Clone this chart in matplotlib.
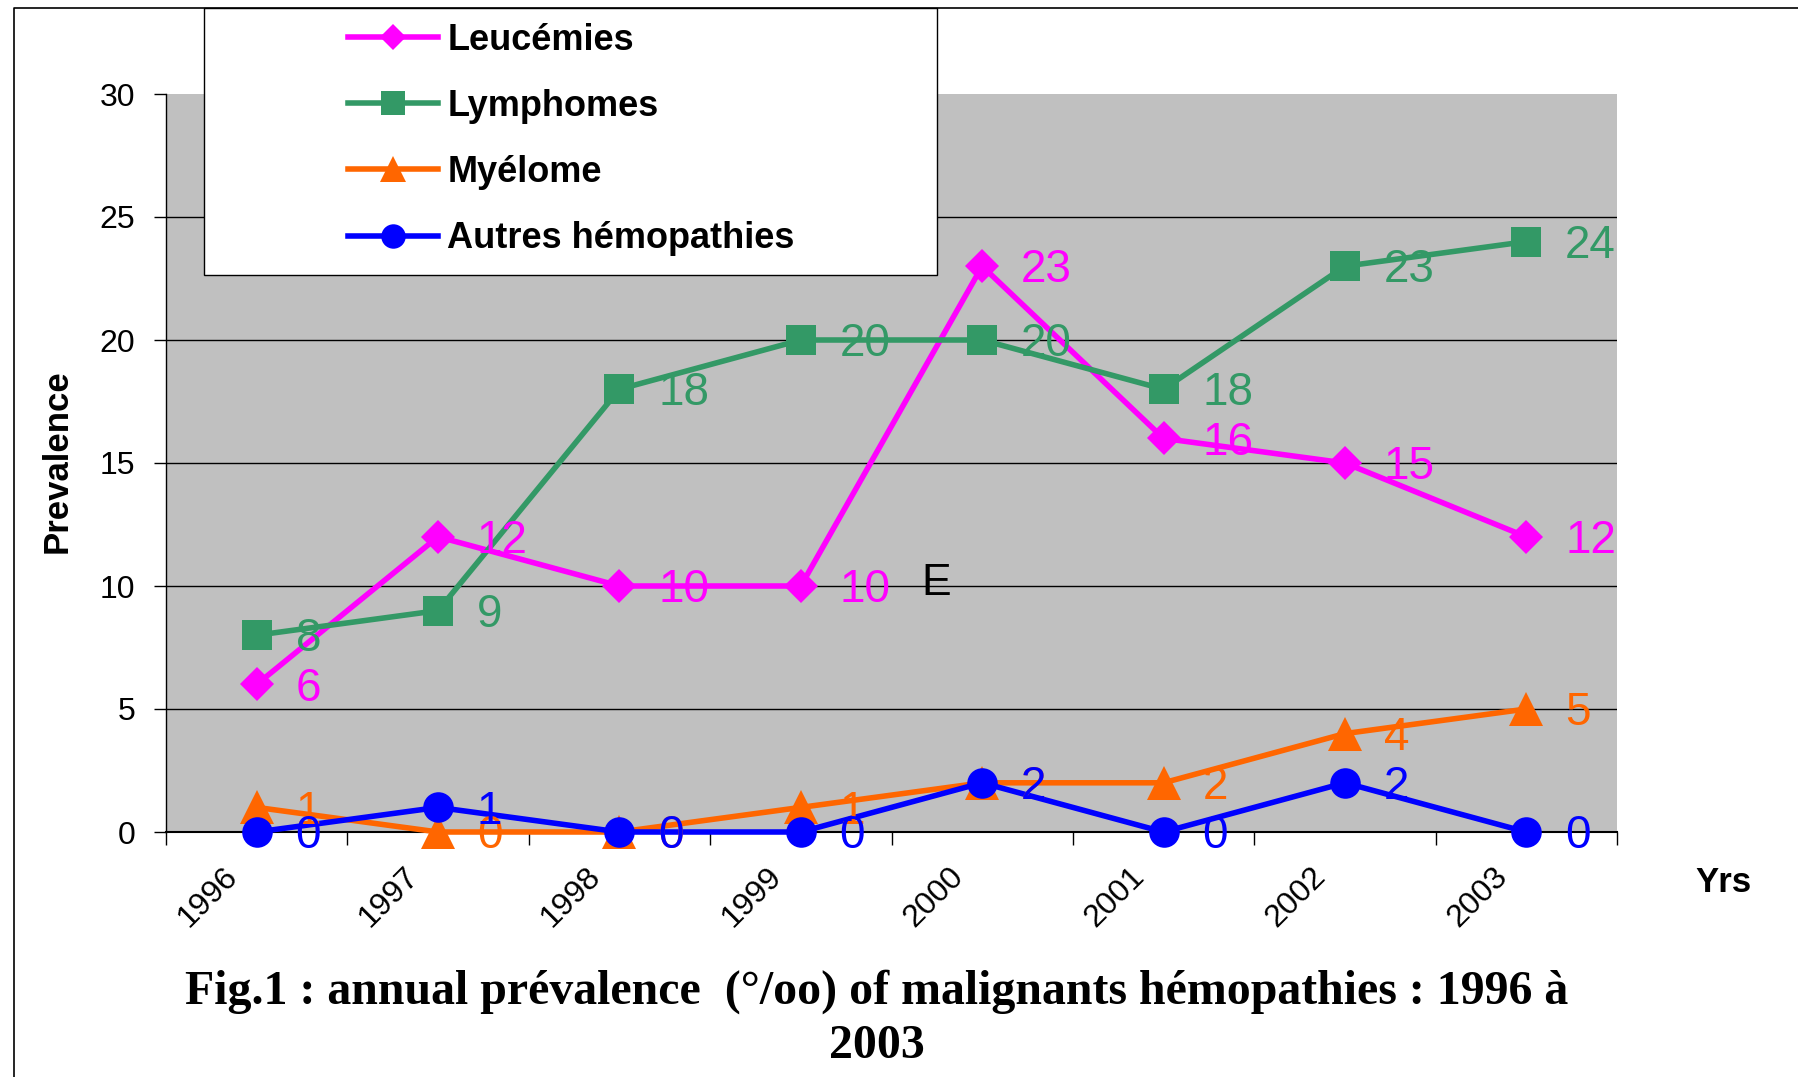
import matplotlib
matplotlib.use("Agg")
import matplotlib.pyplot as plt
from matplotlib.transforms import ScaledTranslation
from matplotlib.patches import Rectangle
from matplotlib.lines import Line2D
import numpy as np

plt.rcParams['font.family'] = ['Liberation Sans', 'DejaVu Sans']

years = ["1996", "1997", "1998", "1999", "2000", "2001", "2002", "2003"]
leucemies = [6, 12, 10, 10, 23, 16, 15, 12]
lymphomes = [8, 9, 18, 20, 20, 18, 23, 24]
myelome = [1, 0, 0, 1, 2, 2, 4, 5]
autres = [0, 1, 0, 0, 2, 0, 2, 0]
series_names = ["Leucémies", "Lymphomes", "Myélome", "Autres hémopathies"]
yticks = [0, 5, 10, 15, 20, 25, 30]

series = [leucemies, lymphomes, myelome, autres]
colors = ["#FF00FF", "#339966", "#FF6600", "#0000FF"]
markers = ["D", "s", "^", "o"]
msizes = [17, 22, 24, 22]

fig = plt.figure(figsize=(17.98, 10.77), dpi=100)
ax = fig.add_axes([166/1798, 1-832/1077, (1617-166)/1798, (832-94)/1077])
ax.set_facecolor("#C0C0C0")

x = np.arange(len(years))
lines = []
for vals, c, m, ms, name in zip(series, colors, markers, msizes, series_names):
    ln, = ax.plot(x, vals, color=c, marker=m, markersize=ms, lw=4,
                  markeredgewidth=0, label=name, zorder=3, clip_on=False)
    lines.append(ln)

for vals, c in zip(series, colors):
    for xi, v in zip(x, vals):
        ax.annotate(str(v), (xi, v), xytext=(28, -3), textcoords="offset points",
                    ha="left", va="center", fontsize=33, color=c, zorder=5,
                    annotation_clip=False)

ax.text(3.745, 10.1, "E", fontsize=32, color="black", ha="center", va="center", zorder=5)

ax.set_xlim(-0.5, len(years) - 0.5)
ax.set_ylim(0, 30)
ax.set_yticks(yticks)
ax.tick_params(axis="y", labelsize=23, length=9, width=1, pad=13, direction="out")
ax.set_xticks(x, labels=years, rotation=45, ha="right", va="top")
ax.set_xticks(np.arange(-0.5, len(years), 1), minor=True)
ax.tick_params(axis="x", which="major", length=0, labelsize=23, pad=21)
ax.tick_params(axis="x", which="minor", length=9, width=1, direction="out")
off = ScaledTranslation(-13/100, 0, fig.dpi_scale_trans)
for lab in ax.get_xticklabels():
    lab.set_transform(lab.get_transform() + off)

ax.yaxis.grid(True, color="black", lw=1)
ax.set_axisbelow(True)
ax.get_ygridlines()[-1].set_visible(False)
for s in ["top", "right"]:
    ax.spines[s].set_visible(False)
ax.spines["left"].set_linewidth(1)
ax.spines["bottom"].set_linewidth(1.5)

fig.text(57/1798, 1-461/1077, "Prevalence", rotation=90, fontsize=25,
         fontweight="bold", ha="center", va="center")
fig.text(1723/1798, 1-883/1077, "Yrs", fontsize=25, fontweight="bold",
         ha="center", va="center")

fig.text(877/1798, 1-992/1077,
         "Fig.1 : annual prévalence  (°/oo) of malignants hémopathies : 1996 à",
         fontsize=34.5, fontweight="bold", family="Liberation Serif",
         ha="center", va="center")
fig.text(877/1798, 1-1046/1077, "2003", fontsize=34.5, fontweight="bold",
         family="Liberation Serif", ha="center", va="center")

# legend box
fig.patches.append(Rectangle((204/1798, 1-275/1077), 733/1798, 267/1077,
                             transform=fig.transFigure, facecolor="white",
                             edgecolor="black", lw=1, zorder=4))
leg = fig.legend(handles=lines, labels=series_names, loc="upper left",
                 bbox_to_anchor=(348/1798, 1-23/1077), bbox_transform=fig.transFigure,
                 frameon=False, borderpad=0, borderaxespad=0, fontsize=26,
                 handlelength=2.5, handletextpad=0.25, labelspacing=0.86,
                 markerscale=0.8)
for t in leg.get_texts():
    t.set_fontweight("bold")
leg.set_zorder(6)

# outer border
fig.lines.append(Line2D([14/1798, 14/1798, 1], [0, 1-8/1077, 1-8/1077],
                        transform=fig.transFigure, color="black", lw=1.2, zorder=7))

fig.savefig("out.png", dpi=100)
